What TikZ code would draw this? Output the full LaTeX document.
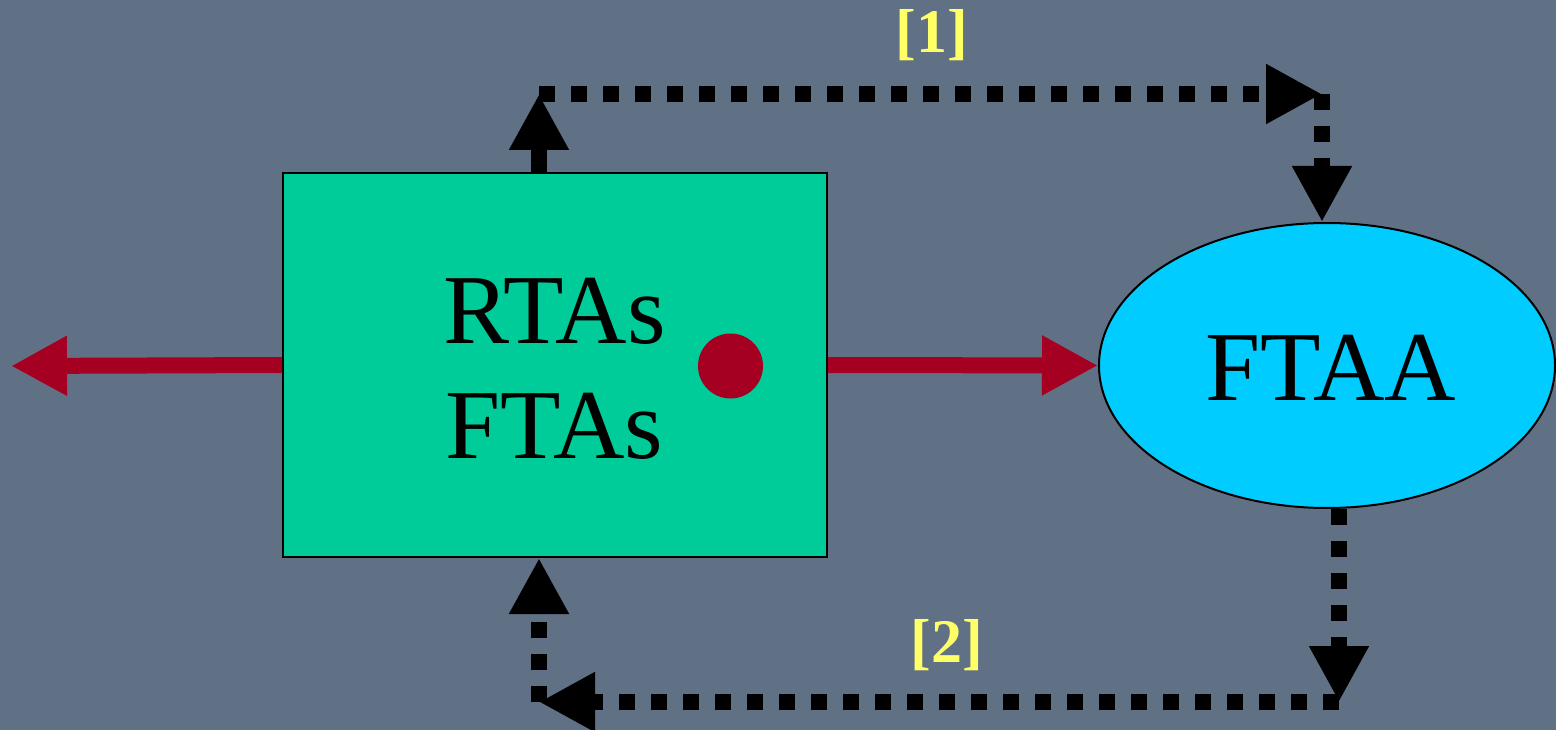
\documentclass[tikz,border=0pt]{standalone}
\usepackage{fontspec}
\setmainfont{Liberation Serif}
\usetikzlibrary{arrows.meta,shapes.geometric}
\definecolor{bgslate}{RGB}{97,113,133}
\definecolor{boxgreen}{RGB}{0,204,153}
\definecolor{ellcyan}{RGB}{0,204,255}
\definecolor{darkred}{RGB}{165,0,33}
\definecolor{lblyellow}{RGB}{255,255,102}
\tikzset{
  bigtext/.style={font=\fontsize{99}{115}\selectfont, text=black, inner sep=0pt},
  numlbl/.style={font=\fontsize{62}{70}\selectfont\bfseries, text=lblyellow, inner sep=0pt},
  greenbox/.style={draw=black, line width=2pt, fill=boxgreen, minimum width=544pt, minimum height=384pt, inner sep=0pt},
  cyanell/.style={ellipse, draw=black, line width=2pt, fill=ellcyan, minimum width=456pt, minimum height=285pt, inner sep=0pt},
  redarrow/.style={draw=darkred, line width=16pt, -{Triangle[length=56pt,width=56pt]}},
  solidarrow/.style={draw=black, line width=16pt, -{Triangle[length=56pt,width=56pt]}},
  dotarrow/.style={draw=black, line width=16pt, dash pattern=on 16pt off 16pt, -{Triangle[length=56pt,width=56pt]}},
}
\begin{document}
\begin{tikzpicture}[x=1pt,y=-1pt]
  \fill[bgslate] (0,0) rectangle (1556,730);
  \useasboundingbox (0,0) rectangle (1556,730);

  \node[greenbox] (box) at (555,365) {};
  \node[cyanell] (fta) at (1327,365.5) {};

  \node[bigtext, anchor=base] (rtas) at (554.5,343) {RTAs};
  \node[bigtext, anchor=base] (ftas) at (554.5,458) {FTAs};
  \node[bigtext, anchor=base] (ftaa) at (1331,400) {FTAA};

  \node[circle, fill=darkred, minimum size=65pt, inner sep=0pt] (dot) at (730.5,366) {};

  \coordinate (lefttip) at (11,366);
  \coordinate (c1) at (539,94);
  \coordinate (c2) at (1322,94);
  \coordinate (c3) at (1339,702);
  \coordinate (c4) at (539,702);

  % red arrows
  \draw[redarrow] (box.west) -- (lefttip);
  \draw[redarrow] (box.east) -- (fta.west);

  % top route [1]
  \draw[solidarrow] (box.north -| c1) -- (c1);
  \draw[dotarrow] (c1) -- (c2);
  \draw[dotarrow] (c2) -- (fta.north -| c2);

  % bottom route [2]
  \draw[dotarrow] (fta.south -| c3) -- (c3);
  \draw[dotarrow] (c3) -- (c4);
  \draw[dotarrow] (c4) -- (box.south -| c4);

  \node[numlbl, anchor=base] (l1) at (932,53) {[1]};
  \node[numlbl, anchor=base] (l2) at (947,662) {[2]};
\end{tikzpicture}
\end{document}
